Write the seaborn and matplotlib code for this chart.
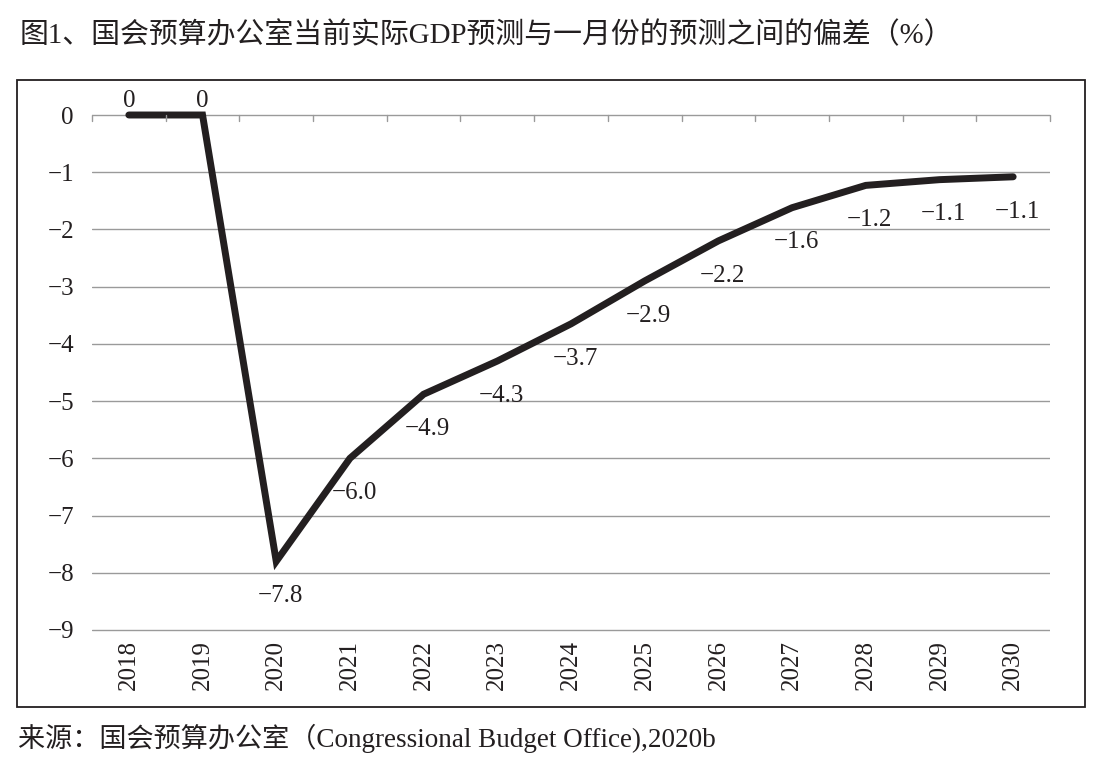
import numpy as np
import pandas as pd
import matplotlib
matplotlib.use("Agg")
import matplotlib.pyplot as plt
import matplotlib.transforms as mtransforms
from matplotlib.patches import Rectangle
import seaborn as sns

years = ["2018", "2019", "2020", "2021", "2022", "2023", "2024",
         "2025", "2026", "2027", "2028", "2029", "2030"]
deviation = [0, 0, -7.8, -6.0, -4.88, -4.3, -3.65, -2.9, -2.2, -1.62, -1.23, -1.13, -1.08]
point_labels = ["0", "0", "\u22127.8", "\u22126.0", "\u22124.9", "\u22124.3", "\u22123.7",
                "\u22122.9", "\u22122.2", "\u22121.6", "\u22121.2", "\u22121.1", "\u22121.1"]
y_ticks = [0, -1, -2, -3, -4, -5, -6, -7, -8, -9]

title = "图1、国会预算办公室当前实际GDP预测与一月份的预测之间的偏差（%）"
source = "来源：国会预算办公室（Congressional Budget Office),2020b"

sns.set_theme(style="white")
plt.rcParams["font.family"] = ["Liberation Serif", "Noto Sans CJK SC"]
ink = "#231f20"

df = pd.DataFrame({"year": years, "dev": deviation})

fig = plt.figure(figsize=(11.09, 7.69), dpi=100)
W, H = 1109, 769
# plot area in pixels: x 92..1050, y(0)=115, y(-9)=630
ppu = (630 - 115) / 9
top_px = 115 - 0.05 * ppu
bot_px = 630 + 0.05 * ppu
ax = fig.add_axes([92 / W, 1 - bot_px / H, (1050 - 92) / W, (bot_px - top_px) / H])

sns.lineplot(data=df, x="year", y="dev", ax=ax, color=ink, linewidth=5.0,
             solid_capstyle="round", solid_joinstyle="miter", sort=False)
for ln in ax.lines:
    ln.set_clip_on(False)

ax.set_xlim(-0.5, len(years) - 0.5)
ax.set_ylim(-9.05, 0.05)
ax.set_yticks(y_ticks)
ax.set_yticklabels([("\u2212" + str(-v)) if v < 0 else str(v) for v in y_ticks],
                   fontsize=18, color=ink)
ax.set_xticks(range(len(years)))
ax.set_xticklabels(years, rotation=90, fontsize=18, color=ink)
ax.tick_params(axis="both", length=0)
ax.tick_params(axis="y", pad=13)
ax.tick_params(axis="x", pad=5)
ax.set_xlabel("")
ax.set_ylabel("")
for s in ax.spines.values():
    s.set_visible(False)
ax.yaxis.grid(True, color="#9a9a9a", linewidth=1.0)
ax.xaxis.grid(False)
ax.set_axisbelow(True)

# small category-boundary ticks under the zero line
trans = mtransforms.blended_transform_factory(ax.transData, ax.transAxes)
zero_ax = 1 - (0.05 * ppu) / (bot_px - top_px)
for b in np.arange(-0.5, len(years), 1.0):
    ax.plot([b, b], [zero_ax, zero_ax - 6 / (bot_px - top_px)], transform=trans,
            color="#9a9a9a", linewidth=1.0, clip_on=False)

for i, (v, lab) in enumerate(zip(deviation, point_labels)):
    if v == 0:
        ax.annotate(lab, (i, v), xytext=(0, 10), textcoords="offset points",
                    ha="center", va="center", fontsize=18, color=ink)
    else:
        ax.annotate(lab, (i, v), xytext=(3, -25), textcoords="offset points",
                    ha="center", va="center", fontsize=18, color=ink)

fig.patches.append(Rectangle((17 / W, 1 - 707 / H), (1085 - 17) / W, (707 - 80) / H,
                             transform=fig.transFigure, fill=False,
                             edgecolor=ink, linewidth=1.3))
fig.text(20 / W, 1 - 35 / H, title, fontsize=20.8, color=ink, ha="left", va="center")
fig.text(18 / W, 1 - 738 / H, source, fontsize=19.5, color=ink, ha="left", va="center")

fig.savefig("out.png", dpi=100)
